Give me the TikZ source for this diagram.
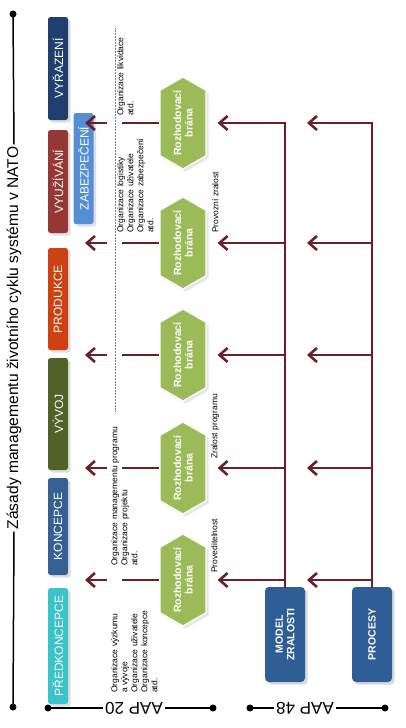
\documentclass[tikz,border=0pt]{standalone}
\usepackage{fontspec}
\setmainfont{Liberation Sans}
\usetikzlibrary{arrows.meta,positioning,shapes.symbols,shadows}

\definecolor{cArrow}{HTML}{6A2126}
\definecolor{cGate}{HTML}{9BBB59}
\definecolor{cVyr}{HTML}{203F6E}
\definecolor{cVyu}{HTML}{953735}
\definecolor{cZab}{HTML}{558ED5}
\definecolor{cPro}{HTML}{CC4210}
\definecolor{cVyv}{HTML}{4F6228}
\definecolor{cKon}{HTML}{376092}
\definecolor{cPre}{HTML}{3AC3C8}
\definecolor{cBlock}{HTML}{2F5D95}

\begin{document}
\begin{tikzpicture}[x=1pt,y=-1pt,
    phase/.style={rotate=90,rounded corners=2.5pt,minimum height=20pt,inner sep=0pt,
      text=white,font=\fontsize{12}{14}\selectfont,drop shadow={opacity=0.25}},
    gate/.style={signal,signal to=east and west,signal pointer angle=120,rotate=90,
      fill=cGate,draw=white,line width=1.2pt,minimum width=85pt,minimum height=46pt,
      inner sep=0pt,text=white,align=center,font=\bfseries\fontsize{10.5}{11.5}\selectfont,
      drop shadow={opacity=0.2}},
    block/.style={rotate=90,rounded corners=4pt,fill=cBlock,minimum width=95pt,
      minimum height=40pt,text=white,align=center,
      font=\bfseries\fontsize{10.5}{11.5}\selectfont,drop shadow={opacity=0.3}},
    note/.style={rotate=90,align=left,inner sep=0pt,font=\fontsize{8.5}{10}\selectfont},
    conn/.style={cArrow,line width=2.6pt},
    arr/.style={conn,-{Straight Barb[length=8pt,width=14pt]}},
    rule/.style={line width=1.5pt}]
    \useasboundingbox (0,0) rectangle (406,728);

    % title and AAP rules
    \node[rotate=90,font=\fontsize{15.6}{18}\selectfont,inner sep=2pt] (title) at (14,338)
      {Zásady managementu životního cyklu systému v NATO};
    \coordinate (ttop) at (13,14);
    \coordinate (tbot) at (13,707);
    \draw[rule] (ttop) -- (title.east);
    \draw[rule] (title.west) -- (tbot);
    \fill (ttop) circle (3.5pt) (tbot) circle (3.5pt);

    \node[rotate=180,font=\fontsize{17}{18}\selectfont,inner sep=2pt] (aap20) at (134,708) {AAP 20};
    \coordinate (a20l) at (48,708);
    \coordinate (a20r) at (213,708);
    \draw[rule] (a20l) -- (aap20.east);
    \draw[rule] (aap20.west) -- (a20r);
    \fill (a20l) circle (3.5pt) (a20r) circle (3.5pt);

    \node[rotate=180,font=\fontsize{17}{18}\selectfont,inner sep=2pt] (aap48) at (305,708) {AAP 48};
    \coordinate (a48l) at (250,708);
    \coordinate (a48r) at (385,708);
    \draw[rule] (a48l) -- (aap48.east);
    \draw[rule] (aap48.west) -- (a48r);
    \fill (a48l) circle (3.5pt) (a48r) circle (3.5pt);

    % phases
    \node[phase,fill=cVyr,minimum width=103pt] (vyrazeni) at (58,68.5) {VYŘAZENÍ};
    \node[phase,fill=cVyu,minimum width=103pt] (vyuzivani) at (58,181.5) {VYUŽÍVÁNÍ};
    \node[phase,fill=cZab,minimum width=111pt] (zabezpeceni) at (83.5,168.5) {ZABEZPEČENÍ};
    \node[phase,fill=cPro,minimum width=102pt] (produkce) at (58,299) {PRODUKCE};
    \node[phase,fill=cVyv,minimum width=112pt] (vyvoj) at (58,414) {VÝVOJ};
    \node[phase,fill=cKon,minimum width=97pt] (koncepce) at (58,526.5) {KONCEPCE};
    \node[phase,fill=cPre,minimum width=116pt] (predkoncepce) at (58,646) {PŘEDKONCEPCE};

    % organisations
    \coordinate (dtop) at (115,28);
    \coordinate (dbot) at (115,412);
    \draw[gray,densely dotted,line width=0.5pt] (dtop) -- (dbot);
    \node[note,anchor=north west] (org1) at (111,693)
      {Organizace výzkumu\\a vývoje\\Organizace uživatele\\Organizace koncepce\\atd.};
    \node[note,anchor=north west] (org2) at (111,566)
      {Organizace managementu programu\\Organizace projektu\\atd.};
    \node[note,anchor=north west] (org4) at (117,233)
      {Organizace logistiky\\Organizace uživatele\\Organizace zabezpečení\\atd.};
    \node[note,anchor=north west] (org5) at (117,116) {Organizace likvidace\\atd.};

    % model and processes
    \node[block] (model) at (285,634.5) {MODEL\\ZRALOSTI};
    \node[block] (procesy) at (372,634.5) {PROCESY};

    % decision gates
    \foreach \i/\y in {1/580,2/468,3/355,4/243,5/123}{
      \node[gate] (g\i) at (183,\y) {Rozhodovací\\brána};
      \coordinate (mz\i) at (285,\y);
      \coordinate (pr\i) at (372,\y);
      \coordinate (tip\i) at (307,\y);
      \coordinate (bar\i) at (122,\y);
      \coordinate (lf\i) at (107,\y);
      \coordinate (lt\i) at (85,\y);
      \draw[conn] (g\i.north) -- (bar\i);
      \draw[arr] (lf\i) -- (lt\i);
      \draw[arr,shorten >=11pt] (mz\i) -- (g\i.south);
      \draw[arr] (pr\i) -- (tip\i);
    }
    \draw[conn,line cap=rect] (model.east) -- (mz5);
    \draw[conn,line cap=rect] (procesy.east) -- (pr5);

    \node[note,anchor=north west] (lbl1) at (211,573) {Proveditelnost};
    \node[note,anchor=north west] (lbl2) at (211,459) {Zralost programu};
    \node[note,anchor=north west] (lbl4) at (212,233) {Provozní zralost};
\end{tikzpicture}
\end{document}
